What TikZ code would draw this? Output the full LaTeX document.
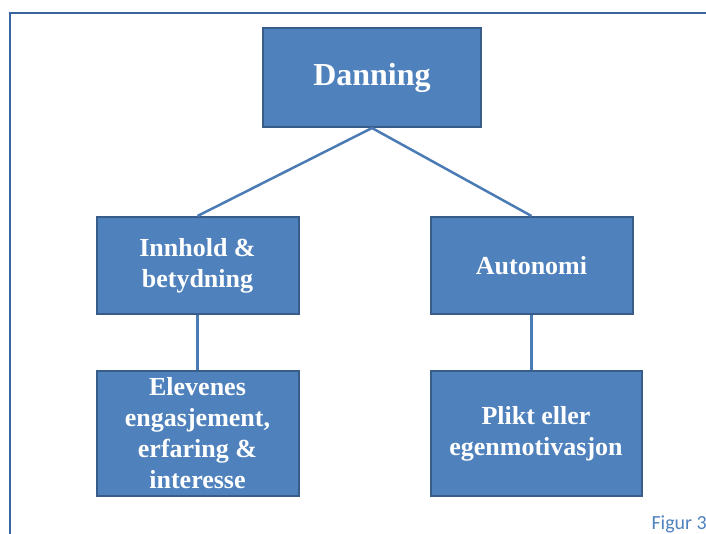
\documentclass[tikz,border=0pt]{standalone}
\usepackage{fontspec}
\setmainfont{Liberation Serif}
\newfontfamily\figfont{Carlito}
\usepackage{tikz}
\usetikzlibrary{positioning}
\definecolor{cfill}{HTML}{4F81BD}
\definecolor{cedge}{HTML}{385D8A}
\definecolor{cframe}{HTML}{3A64A0}
\tikzset{
  box/.style={rectangle, draw=cedge, fill=cfill, line width=2pt, text=white,
              align=center, inner sep=0pt, minimum width=202pt, minimum height=97pt,
              font=\fontsize{26}{31}\selectfont\bfseries},
  topbox/.style={box, minimum width=218pt, minimum height=99pt,
              font=\fontsize{32}{36}\selectfont\bfseries},
  link/.style={draw=cfill!95!black, line width=2.5pt}
}
\begin{document}
\begin{tikzpicture}[x=1pt, y=-1pt]
\useasboundingbox (0,0) rectangle (706,534);
\draw[cframe, line width=2.5pt] (10,560) -- (10,13) -- (720,13);
\node[topbox] (dan) at (372,77.5) {Danning};
\node[box] (inn) at (197.5,265.5) {Innhold \&\\betydning};
\node[box, right=130pt of inn] (aut) {Autonomi};
\node[box, minimum height=125pt, below=55pt of inn] (elev) {Elevenes\\engasjement,\\erfaring \&\\interesse};
\node[box, minimum width=211pt, minimum height=125pt, anchor=north west, below right=55pt and 0pt of aut.south west] (plikt) {Plikt eller\\egenmotivasjon};
\draw[link] (dan.south) -- (inn.north); \draw[link] (dan.south) -- (aut.north);
\draw[link] (inn.south) -- (elev.north);
\draw[link] (aut.south) -- (aut.south |- plikt.north);
\node[anchor=base west, text=cfill, font=\fontsize{20}{24}\figfont] (fig) at (648,529) {Figur 3};
\end{tikzpicture}
\end{document}
